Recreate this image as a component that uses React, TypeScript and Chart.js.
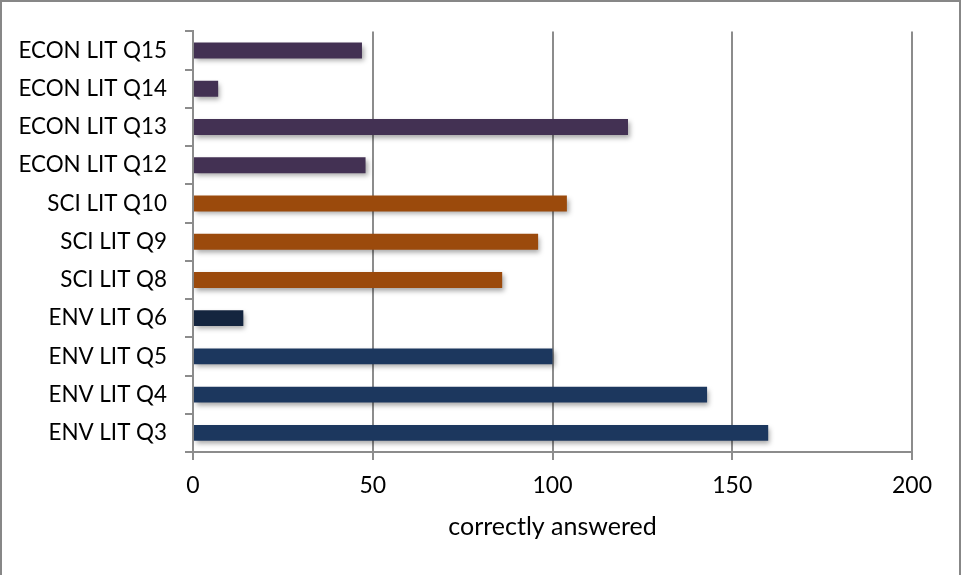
import React, { useEffect, useRef } from "react";
import { Chart, registerables } from "chart.js";

Chart.register(...registerables);

const categories = [
  "ECON LIT Q15",
  "ECON LIT Q14",
  "ECON LIT Q13",
  "ECON LIT Q12",
  "SCI LIT Q10",
  "SCI LIT Q9",
  "SCI LIT Q8",
  "ENV LIT Q6",
  "ENV LIT Q5",
  "ENV LIT Q4",
  "ENV LIT Q3",
];
const correctlyAnswered = [47, 7, 121, 48, 104, 96, 86, 14, 100, 143, 160];
const barColors = [
  "#433153",
  "#433153",
  "#433153",
  "#433153",
  "#9b4a0c",
  "#9b4a0c",
  "#9b4a0c",
  "#14253f",
  "#1c375e",
  "#1c375e",
  "#1c375e",
];
const xTicks = [0, 50, 100, 150, 200];
const xTitle = "correctly answered";

const FONT = "Lato, 'Open Sans', sans-serif";

const shadowPlugin = {
  id: "barShadow",
  beforeDatasetsDraw(chart: any) {
    const ctx = chart.ctx;
    ctx.save();
    ctx.shadowColor = "rgba(0,0,0,0.35)";
    ctx.shadowBlur = 5;
    ctx.shadowOffsetX = 2;
    ctx.shadowOffsetY = 3;
  },
  afterDatasetsDraw(chart: any) {
    chart.ctx.restore();
  },
};

export default function App() {
  const ref = useRef<HTMLCanvasElement | null>(null);
  useEffect(() => {
    document.body.style.margin = "0";
    const canvas = ref.current!;
    const chart = new Chart(canvas, {
      type: "bar",
      data: {
        labels: categories,
        datasets: [
          {
            data: correctlyAnswered,
            backgroundColor: barColors,
            borderWidth: 0,
            categoryPercentage: 1,
            barPercentage: 0.415,
          },
        ],
      },
      options: {
        indexAxis: "y",
        responsive: false,
        animation: false,
        devicePixelRatio: 1,
        layout: { padding: { left: 0, right: 49, top: 29, bottom: 0 } },
        plugins: {
          legend: { display: false },
          tooltip: { enabled: false },
        },
        scales: {
          x: {
            min: 0,
            max: 200,
            afterBuildTicks: (s: any) => {
              s.ticks = xTicks.map((v) => ({ value: v }));
            },
            afterFit: (s: any) => {
              s.height = 123;
            },
            grid: {
              color: "#8c8c8c",
              lineWidth: 2,
              drawTicks: true,
              tickLength: 8,
            },
            border: { display: true, color: "#8c8c8c", width: 2 },
            ticks: {
              color: "#000",
              font: { family: FONT, size: 23 },
              padding: 12,
              maxRotation: 0,
            },
            title: {
              display: true,
              text: xTitle,
              color: "#000",
              font: { family: FONT, size: 25 },
              padding: { top: 0, bottom: 33 },
            },
          },
          y: {
            afterFit: (s: any) => {
              s.width = 193;
            },
            grid: {
              display: true,
              drawOnChartArea: false,
              drawTicks: true,
              tickLength: 8,
              color: "#8c8c8c",
              lineWidth: 2,
              offset: true,
            },
            border: { display: true, color: "#8c8c8c", width: 2 },
            ticks: {
              color: "#000",
              font: { family: FONT, size: 22.4 },
              padding: 18,
            },
          },
        },
      },
      plugins: [shadowPlugin],
    });
    return () => chart.destroy();
  }, []);
  return (
    <div style={{ position: "relative", width: 961, height: 575 }}>
      <canvas ref={ref} width={961} height={575} style={{ display: "block" }} />
      <div
        style={{
          position: "absolute",
          left: 0,
          top: 0,
          width: 961,
          height: 577,
          boxSizing: "border-box",
          border: "2px solid #878787",
          pointerEvents: "none",
        }}
      />
    </div>
  );
}
